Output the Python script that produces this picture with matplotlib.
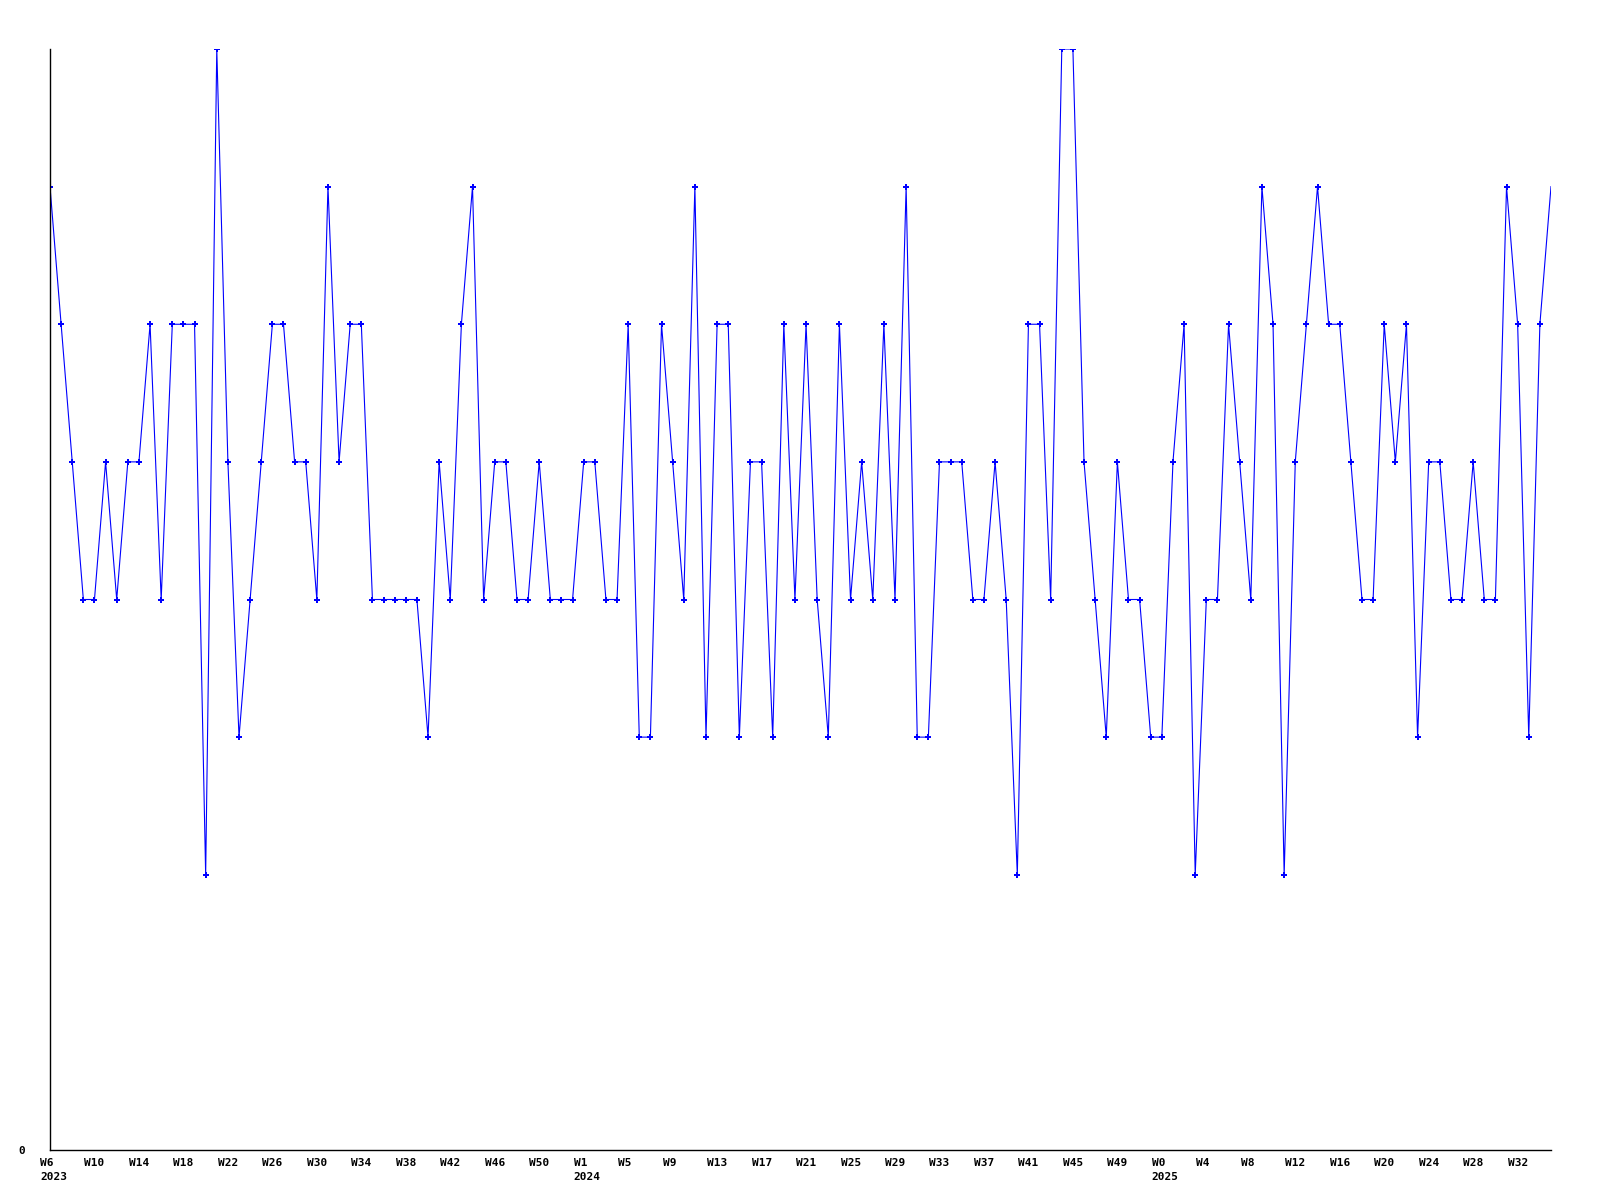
import matplotlib
matplotlib.use("Agg")
import matplotlib.pyplot as plt
from matplotlib.transforms import ScaledTranslation

# weekly values, one per week starting W6 2023
values = [
    7, 6, 5, 4, 4, 5, 4, 5, 5, 6, 4, 6, 6, 6, 2, 8, 5, 3, 4, 5,
    6, 6, 5, 5, 4, 7, 5, 6, 6, 4, 4, 4, 4, 4, 3, 5, 4,
    6, 7, 4, 5, 5, 4, 4, 5, 4, 4, 4, 5, 5, 4, 4, 6, 3, 3, 6, 5,
    4, 7, 3, 6, 6, 3, 5, 5, 3, 6, 4, 6, 4,
    3, 6, 4, 5, 4, 6, 4, 7, 3, 3, 5, 5, 5, 4, 4, 5, 4, 2, 6, 6,
    4, 8, 8, 5, 4, 3, 5, 4, 4, 3, 3, 5, 6, 2, 4, 4,
    6, 5, 4, 7, 6, 2, 5, 6, 7, 6, 6, 5, 4, 4, 6, 5, 6, 3, 5, 5,
    4, 4, 5, 4, 4, 7, 6, 3, 6, 7,
]

# tick labels, one every 4 weeks
tick_labels = [
    "W6\n2023", "W10", "W14", "W18", "W22", "W26", "W30", "W34", "W38",
    "W42", "W46", "W50",
    "W1\n2024", "W5", "W9", "W13", "W17", "W21", "W25", "W29", "W33",
    "W37", "W41", "W45", "W49",
    "W0\n2025", "W4", "W8", "W12", "W16", "W20", "W24", "W28", "W32",
]
tick_step = 4

x = list(range(len(values)))

fig = plt.figure(figsize=(16, 12), dpi=100)
ax = fig.add_axes([50 / 1600, 50 / 1200, 1501 / 1600, 1101 / 1200])

ax.plot(x, values, color="#0000ff", lw=0.8, marker="P", markersize=4.2,
        markeredgewidth=0, markevery=list(range(len(values) - 1)))

ax.set_xlim(0, len(values) - 1)
ax.set_ylim(0, 8)

for s in ("top", "right"):
    ax.spines[s].set_visible(False)
for s in ("left", "bottom"):
    ax.spines[s].set_color("black")
    ax.spines[s].set_linewidth(1.0)
    ax.spines[s].set_zorder(3)

font = dict(family="DejaVu Sans Mono", weight="bold", size=8)

ax.set_xticks([i * tick_step for i in range(len(tick_labels))])
ax.set_xticklabels(tick_labels, ha="left", va="top", linespacing=1.45, **font)
ax.set_yticks([0])
ax.set_yticklabels(["0"], **font)
ax.tick_params(axis="x", length=0, pad=6)
ax.tick_params(axis="y", length=0, pad=18)

offset = ScaledTranslation(-10 / 100, 0, fig.dpi_scale_trans)
for lab in ax.get_xticklabels():
    lab.set_transform(lab.get_transform() + offset)

fig.savefig("out.png", dpi=100, facecolor="white")
